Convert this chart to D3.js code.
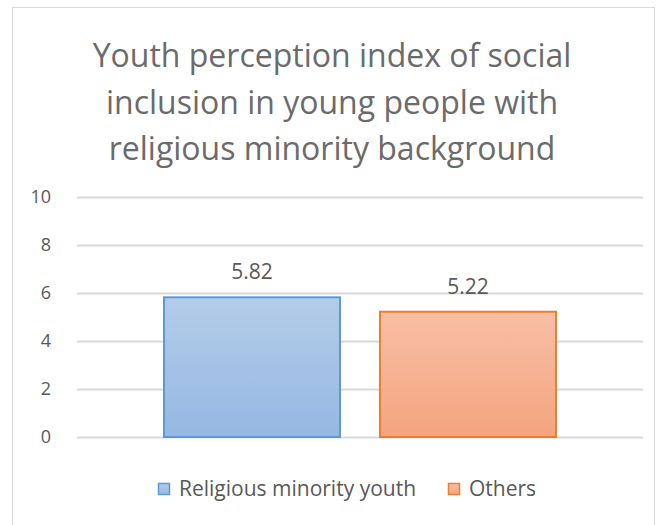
<!DOCTYPE html>
<html>
<head>
<meta charset="utf-8">
<script src="https://cdn.jsdelivr.net/npm/d3@7"></script>
<style>
  body { margin: 0; background: #fff; }
  text { font-family: "Open Sans", Lato, sans-serif; fill: #595959; }
</style>
</head>
<body>
<div id="chart"></div>
<script>
// chart data
var titleLines = ["Youth perception index of social", "inclusion in young people with", "religious minority background"];
var seriesNames = ["Religious minority youth", "Others"];
var seriesValues = [5.82, 5.22];
var yTicks = [0, 2, 4, 6, 8, 10];

var svgWidth = 661;
var svgHeight = 525;

var margin = { top: 197, right: 18, bottom: 88, left: 77 };
var width = svgWidth - margin.left - margin.right;
var height = svgHeight - margin.top - margin.bottom;

var svg = d3.select("#chart")
  .append("svg")
  .attr("width", svgWidth)
  .attr("height", svgHeight);

// gradients for the bars
var defs = svg.append("defs");
var grads = [["#b4cce9", "#95b8e2"], ["#f8bfa6", "#f4a47e"]];
grads.forEach(function(g, i) {
  var lg = defs.append("linearGradient")
    .attr("id", "grad" + i)
    .attr("x1", 0).attr("y1", 0).attr("x2", 0).attr("y2", 1);
  lg.append("stop").attr("offset", "0%").attr("stop-color", g[0]);
  lg.append("stop").attr("offset", "100%").attr("stop-color", g[1]);
});
var strokes = ["#5b9bd5", "#ed7d31"];

// chart frame
svg.append("rect")
  .attr("x", 12.5).attr("y", 7.5)
  .attr("width", 642).attr("height", 530)
  .attr("fill", "none")
  .attr("stroke", "#d9d9d9");

// title
svg.append("g").selectAll("text")
  .data(titleLines)
  .enter()
  .append("text")
  .attr("x", 332)
  .attr("y", (d, i) => 67 + i * 46.5)
  .attr("text-anchor", "middle")
  .style("font-size", "32px")
  .style("fill", "#6b6b6b")
  .text(d => d);

var chartGroup = svg.append("g")
  .attr("transform", `translate(${margin.left}, ${margin.top})`);

var yScale = d3.scaleLinear().domain([0, 10]).range([height, 0]);

var x0 = d3.scaleBand().domain(["all"]).range([0, width]).paddingInner(0).paddingOuter(0.222);
var x1 = d3.scaleBand().domain(seriesNames).range([0, x0.bandwidth()]).paddingInner(0.185);

// y axis
var leftAxis = d3.axisLeft(yScale)
  .tickValues(yTicks)
  .tickSize(-width)
  .tickPadding(26);

var yAxis = chartGroup.append("g").call(leftAxis);
yAxis.select(".domain").remove();
yAxis.selectAll(".tick line").attr("stroke", "#d9d9d9").attr("stroke-width", 2);
yAxis.selectAll(".tick text")
  .style("font-size", "18px")
  .style("font-family", "'Open Sans', Lato, sans-serif")
  .attr("fill", "#595959");

// bars
chartGroup.selectAll(".bar")
  .data(seriesValues)
  .enter()
  .append("rect")
  .attr("class", "bar")
  .attr("x", (d, i) => x0("all") + x1(seriesNames[i]))
  .attr("y", d => yScale(d))
  .attr("width", x1.bandwidth())
  .attr("height", d => height - yScale(d))
  .attr("fill", (d, i) => "url(#grad" + i + ")")
  .attr("stroke", (d, i) => strokes[i])
  .attr("stroke-width", 2);

// value labels
chartGroup.selectAll(".val")
  .data(seriesValues)
  .enter()
  .append("text")
  .attr("class", "val")
  .attr("x", (d, i) => x0("all") + x1(seriesNames[i]) + x1.bandwidth() / 2)
  .attr("y", d => yScale(d) - 18)
  .attr("text-anchor", "middle")
  .style("font-size", "21px")
  .text(d => d.toFixed(2));

// legend
var legend = svg.append("g").attr("transform", "translate(158, 489)");
var legendX = [0, 290];
seriesNames.forEach(function(name, i) {
  var item = legend.append("g").attr("transform", `translate(${legendX[i]}, 0)`);
  item.append("rect")
    .attr("x", 0.5).attr("y", -5.5)
    .attr("width", 11).attr("height", 11)
    .attr("fill", "url(#grad" + i + ")")
    .attr("stroke", strokes[i])
    .attr("stroke-width", 1.5);
  item.append("text")
    .attr("x", 21)
    .attr("y", 7)
    .style("font-size", "21px")
    .text(name);
});
</script>
</body>
</html>
